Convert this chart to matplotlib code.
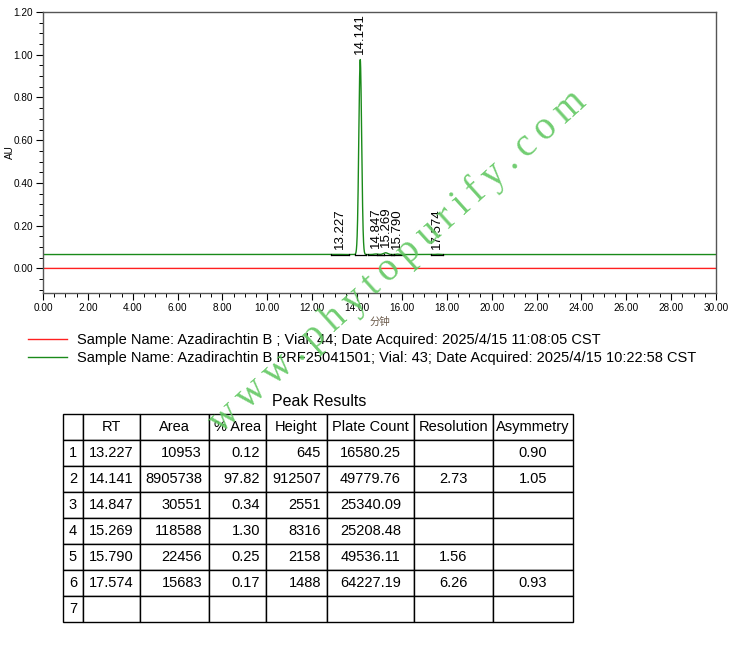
import matplotlib
matplotlib.use('Agg')
import matplotlib.pyplot as plt
import numpy as np
from matplotlib.table import Table
from matplotlib.ticker import MultipleLocator, FormatStrFormatter

plt.rcParams['font.family'] = ['Liberation Sans', 'Noto Sans CJK SC', 'DejaVu Sans']

# peak table (Peak Results)
peak_no = [1, 2, 3, 4, 5, 6, 7]
rt = [13.227, 14.141, 14.847, 15.269, 15.790, 17.574]
area = [10953, 8905738, 30551, 118588, 22456, 15683]
pct_area = [0.12, 97.82, 0.34, 1.30, 0.25, 0.17]
height = [645, 912507, 2551, 8316, 2158, 1488]
plate_count = [16580.25, 49779.76, 25340.09, 25208.48, 49536.11, 64227.19]
resolution = [None, 2.73, None, None, 1.56, 6.26]
asymmetry = [0.90, 1.05, None, None, None, 0.93]

# baselines of the two runs (AU)
base_green = 0.065
base_red = 0.0

legend_red = 'Sample Name: Azadirachtin B ; Vial: 44; Date Acquired: 2025/4/15 11:08:05 CST'
legend_green = 'Sample Name: Azadirachtin B PRF25041501; Vial: 43; Date Acquired: 2025/4/15 10:22:58 CST'

# chromatogram built from the peak table (gaussian peaks, sigma = t/sqrt(N))
t = np.linspace(0, 30, 9001)
sig = np.full_like(t, base_green)
for r, h, n in zip(rt, height, plate_count):
    s = r / np.sqrt(n)
    sig += h / 1e6 * np.exp(-0.5 * ((t - r) / s) ** 2)
blank = np.full_like(t, base_red)

fig = plt.figure(figsize=(7.53, 6.49), dpi=100)
ax = fig.add_axes([43/753, 1-293/649, (716-43)/753, (293-12)/649])

l_red, = ax.plot(t, blank, color='#ff2020', lw=1.0, label=legend_red)
l_green, = ax.plot(t, sig, color='#1a8a1a', lw=1.0, label=legend_green)

# integration marks + peak labels
for r, h, n in zip(rt, height, plate_count):
    s = r / np.sqrt(n)
    ax.plot([r - 4*s, r + 4*s], [base_green, base_green], color='black', lw=0.9, zorder=3)
    ax.plot([r - 4*s, r - 4*s], [base_green - 0.004, base_green + 0.004], color='black', lw=0.8)
    ax.plot([r + 4*s, r + 4*s], [base_green - 0.004, base_green + 0.004], color='black', lw=0.8)
    ax.annotate('%.3f' % r, xy=(r, base_green + h/1e6), xytext=(0, 4),
                textcoords='offset points', rotation=90, ha='center', va='bottom',
                fontsize=9.5)

ax.set_xlim(0, 30)
ax.set_ylim(-0.115, 1.20)
ax.xaxis.set_major_locator(MultipleLocator(2))
ax.xaxis.set_minor_locator(MultipleLocator(0.5))
ax.yaxis.set_major_locator(MultipleLocator(0.2))
ax.yaxis.set_minor_locator(MultipleLocator(0.05))
ax.xaxis.set_major_formatter(FormatStrFormatter('%.2f'))
ax.yaxis.set_major_formatter(FormatStrFormatter('%.2f'))
ax.tick_params(which='major', direction='out', length=5, width=0.8, labelsize=7.2, pad=2)
ax.tick_params(which='minor', direction='out', length=3, width=0.7)
for sp in ax.spines.values():
    sp.set_color('#555555')
    sp.set_linewidth(1.0)
ax.set_ylabel('AU', fontsize=7.2)
ax.yaxis.set_label_coords(-0.042, 0.5)
ax.set_xlabel('分钟', fontsize=7.5, color='#6b5a4a', labelpad=3)

fig.legend(handles=[l_red, l_green], loc='upper left', bbox_to_anchor=(28/753, 1-333/649),
           frameon=False, fontsize=10.5, handlelength=2.7, handletextpad=0.68,
           labelspacing=0.26, borderpad=0, borderaxespad=0)

# Peak Results table
fig.text(319/753, 1-402/649, 'Peak Results', ha='center', va='center', fontsize=11.5)
ax_tab = fig.add_axes([63/753, 1-622/649, 510/753, 208/649])
ax_tab.axis('off')
col_px = [20, 57, 69, 57, 61, 87, 79, 80]
col_w = [c / sum(col_px) for c in col_px]
headers = ['', 'RT', 'Area', '% Area', 'Height', 'Plate Count', 'Resolution', 'Asymmetry']
aligns = ['center', 'left', 'right', 'right', 'right', 'center', 'center', 'center']


def fmt(v, f):
    return '' if v is None else f % v


rows = []
for i in range(len(peak_no)):
    if i < len(rt):
        rows.append([str(peak_no[i]), '%.3f' % rt[i], str(area[i]), '%.2f' % pct_area[i],
                     str(height[i]), '%.2f' % plate_count[i],
                     fmt(resolution[i], '%.2f'), fmt(asymmetry[i], '%.2f')])
    else:
        rows.append([str(peak_no[i])] + [''] * 7)

tab = Table(ax_tab, bbox=[0, 0, 1, 1])
nrow = len(rows) + 1
for j, hd in enumerate(headers):
    c = tab.add_cell(0, j, col_w[j], 1/nrow, text=hd, loc='center')
    c.set_linewidth(1.0)
for i, row in enumerate(rows):
    for j, val in enumerate(row):
        c = tab.add_cell(i+1, j, col_w[j], 1/nrow, text=val, loc=aligns[j])
        c.set_linewidth(1.0)
tab.auto_set_font_size(False)
tab.set_fontsize(10.5)
ax_tab.add_table(tab)

# watermark
wm = '\u2009'.join('www.phytopurify.com')
fig.text(398/753, 1-262/649, wm, rotation=42,
         rotation_mode='anchor', ha='center', va='center', color='#62c862',
         fontsize=28, family=['Liberation Serif', 'DejaVu Serif'], alpha=0.9, zorder=10)

fig.savefig('out.png', dpi=100)
